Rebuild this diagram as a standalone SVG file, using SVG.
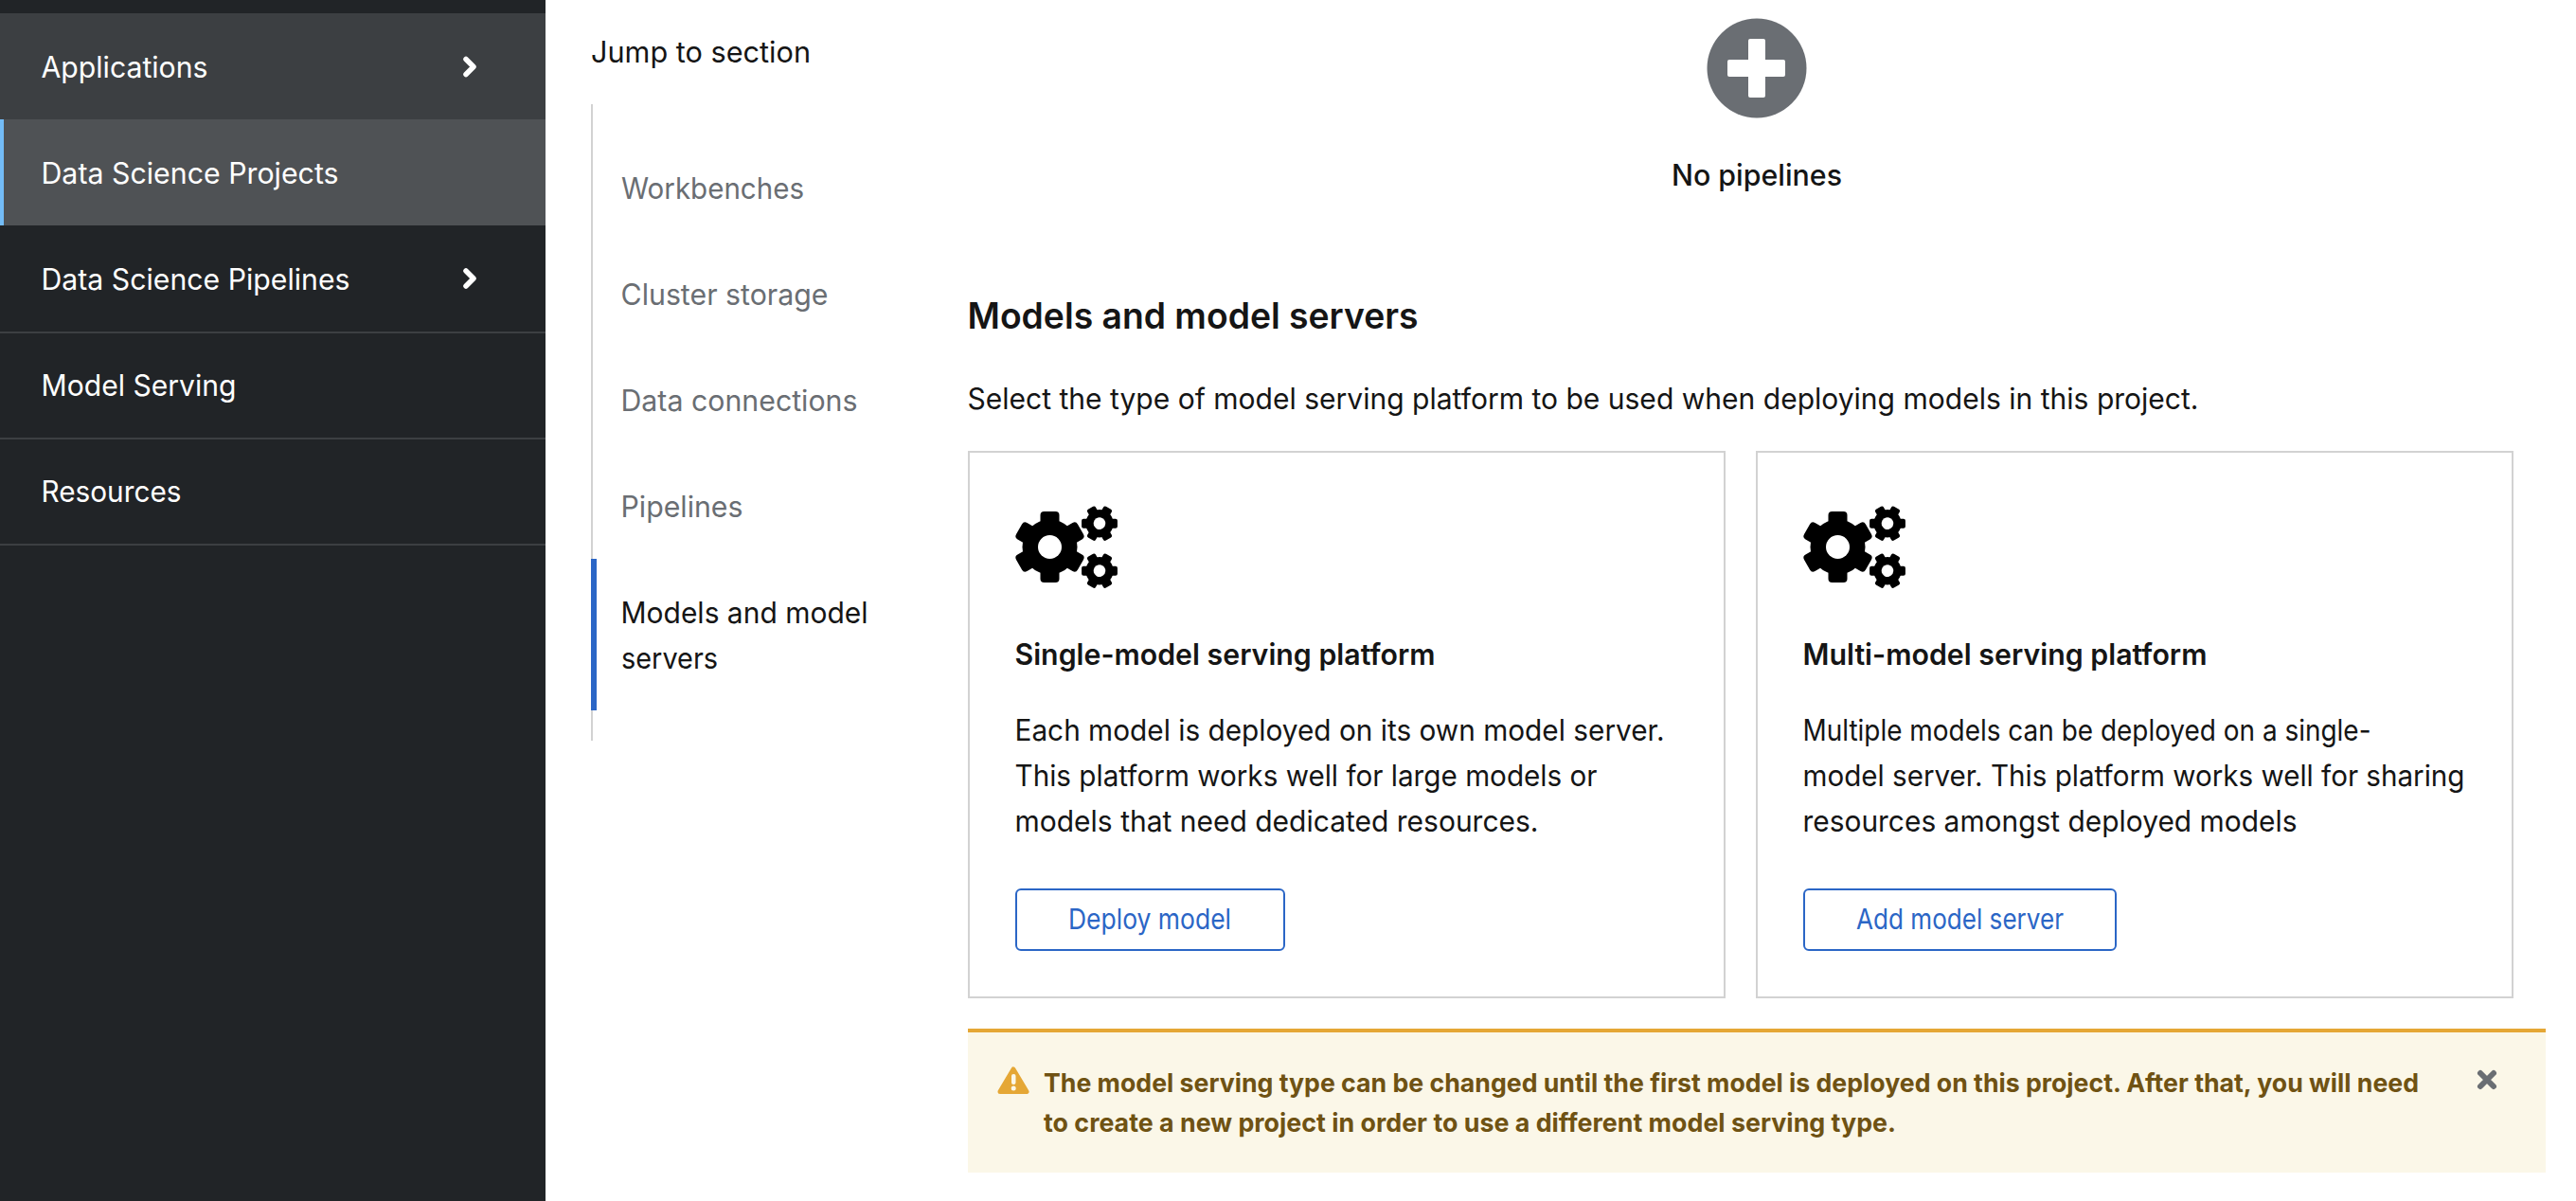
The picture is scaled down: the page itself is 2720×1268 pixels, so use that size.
<svg xmlns="http://www.w3.org/2000/svg" xmlns:xlink="http://www.w3.org/1999/xlink" width="2720" height="1268" viewBox="0 0 2720 1268">
<style>
text{font-family:"Inter","Noto Sans","Liberation Sans",sans-serif;font-size:29px;fill:#151515}
.nav{fill:#fff;font-size:31px}
.sub{fill:#6a6e73;font-size:31px}
.sec{font-size:31px}
.title{font-weight:600;font-size:31px}
.btn{fill:#2b66c6;font-size:30px}
.alert{fill:#6f5213;font-weight:700;font-size:27.500px}
.card{fill:#fff;stroke:#d2d2d2;stroke-width:2}
.btnr{fill:#fff;stroke:#2b66c6;stroke-width:2}
.chev{fill:none;stroke:#fff;stroke-width:5.5;stroke-linecap:round;stroke-linejoin:round}
.div{fill:#3c3f42}
</style>
<defs>
<g id="gear">
<circle r="29" fill="#000"/>
<g fill="#000">
<rect x="-10" y="-37.5" width="20" height="20" rx="4"/>
<rect x="-10" y="-37.5" width="20" height="20" rx="4" transform="rotate(60)"/>
<rect x="-10" y="-37.5" width="20" height="20" rx="4" transform="rotate(120)"/>
<rect x="-10" y="-37.5" width="20" height="20" rx="4" transform="rotate(180)"/>
<rect x="-10" y="-37.5" width="20" height="20" rx="4" transform="rotate(240)"/>
<rect x="-10" y="-37.5" width="20" height="20" rx="4" transform="rotate(300)"/>
</g>
<circle r="12.5" fill="#fff"/>
</g>
<g id="gears">
<use xlink:href="#gear" href="#gear" transform="translate(36.5,37.5)"/>
<use xlink:href="#gear" href="#gear" transform="translate(89,12.7) rotate(30) scale(.505)"/>
<use xlink:href="#gear" href="#gear" transform="translate(89,62.7) rotate(30) scale(.505)"/>
</g>
</defs>
<rect width="2720" height="1268" fill="#fff"/>
<g id="sidebar">
<rect width="576" height="1268" fill="#212427"/>
<rect y="14" width="576" height="112" fill="#3c3f42"/>
<rect y="126" width="576" height="112" fill="#4f5255"/>
<rect y="126" width="4" height="112" fill="#73bcf7"/>
<rect class="div" y="350" width="576" height="2"/>
<rect class="div" y="462" width="576" height="2"/>
<rect class="div" y="574" width="576" height="2"/>
<text class="nav" x="43.500" y="82" textLength="176" lengthAdjust="spacingAndGlyphs">Applications</text>
<path class="chev" d="M492,62.500L500,70.500L492,78.500"/>
<text class="nav" x="43.500" y="194" textLength="314" lengthAdjust="spacingAndGlyphs">Data Science Projects</text>
<text class="nav" x="43.500" y="306" textLength="326" lengthAdjust="spacingAndGlyphs">Data Science Pipelines</text>
<path class="chev" d="M492,286L500,294L492,302"/>
<text class="nav" x="43.500" y="418" textLength="206" lengthAdjust="spacingAndGlyphs">Model Serving</text>
<text class="nav" x="43.500" y="530" textLength="148" lengthAdjust="spacingAndGlyphs">Resources</text>
</g>
<g id="jump-nav">
<text class="sec" x="624" y="66" textLength="232" lengthAdjust="spacingAndGlyphs">Jump to section</text>
<rect x="624" y="110" width="2" height="672" fill="#d2d2d2"/>
<rect x="624" y="590" width="6" height="160" fill="#2b66c6"/>
<text class="sub" x="656" y="210" textLength="193" lengthAdjust="spacingAndGlyphs">Workbenches</text>
<text class="sub" x="655.500" y="322" textLength="219" lengthAdjust="spacingAndGlyphs">Cluster storage</text>
<text class="sub" x="655.500" y="434" textLength="250" lengthAdjust="spacingAndGlyphs">Data connections</text>
<text class="sub" x="655.500" y="546" textLength="129" lengthAdjust="spacingAndGlyphs">Pipelines</text>
<text class="sec" x="655.500" y="658" textLength="261" lengthAdjust="spacingAndGlyphs">Models and model</text>
<text class="sec" x="656" y="705.500" textLength="102" lengthAdjust="spacingAndGlyphs">servers</text>
</g>
<g id="empty-state">
<circle cx="1855" cy="72" r="52.500" fill="#6a6e73"/>
<rect x="1824" y="63" width="61" height="18" rx="2" fill="#fff"/>
<rect x="1846" y="41" width="18" height="62" rx="2" fill="#fff"/>
<text x="1765" y="195.500" style="font-weight:500;font-size:31px" textLength="180" lengthAdjust="spacingAndGlyphs">No pipelines</text>
</g>
<g id="section-header">
<text x="1021.500" y="347" style="font-weight:600;font-size:38px" textLength="476" lengthAdjust="spacingAndGlyphs">Models and model servers</text>
<text x="1021.500" y="432" class="sec" textLength="1300" lengthAdjust="spacingAndGlyphs">Select the type of model serving platform to be used when deploying models in this project.</text>
</g>
<g id="card-single">
<rect class="card" x="1023" y="477" width="798" height="576"/>
<use xlink:href="#gears" href="#gears" x="1072" y="540"/>
<text class="title" x="1071.500" y="701.500" textLength="444" lengthAdjust="spacingAndGlyphs">Single-model serving platform</text>
<text class="sec" x="1071.500" y="782" textLength="686" lengthAdjust="spacingAndGlyphs">Each model is deployed on its own model server.</text>
<text class="sec" x="1071.500" y="829.500" textLength="615" lengthAdjust="spacingAndGlyphs">This platform works well for large models or</text>
<text class="sec" x="1071.500" y="877.500" textLength="553" lengthAdjust="spacingAndGlyphs">models that need dedicated resources.</text>
<rect class="btnr" x="1073" y="939" width="283" height="64" rx="5"/>
<text class="btn" x="1128" y="981" textLength="172" lengthAdjust="spacingAndGlyphs">Deploy model</text>
</g>
<g id="card-multi">
<rect class="card" x="1855" y="477" width="798" height="576"/>
<use xlink:href="#gears" href="#gears" x="1904" y="540"/>
<text class="title" x="1903.500" y="701.500" textLength="427" lengthAdjust="spacingAndGlyphs">Multi-model serving platform</text>
<text class="sec" x="1903.500" y="782" textLength="600" lengthAdjust="spacingAndGlyphs">Multiple models can be deployed on a single-</text>
<text class="sec" x="1903.500" y="829.500" textLength="699" lengthAdjust="spacingAndGlyphs">model server. This platform works well for sharing</text>
<text class="sec" x="1903.500" y="877.500" textLength="522" lengthAdjust="spacingAndGlyphs">resources amongst deployed models</text>
<rect class="btnr" x="1905" y="939" width="329" height="64" rx="5"/>
<text class="btn" x="1960" y="981" textLength="219" lengthAdjust="spacingAndGlyphs">Add model server</text>
</g>
<g id="alert">
<rect x="1022" y="1086" width="1666" height="152" fill="#fbf7e8"/>
<rect x="1022" y="1086" width="1666" height="4" fill="#e5a735"/>
<path d="M1070,1129L1084,1152.500H1056Z" fill="#e5a735" stroke="#e5a735" stroke-width="5" stroke-linejoin="round"/>
<rect x="1068" y="1134" width="4.500" height="11" rx="2" fill="#fbf7e8"/>
<circle cx="1070.200" cy="1149" r="2.500" fill="#fbf7e8"/>
<text class="alert" x="1102" y="1153" textLength="1452" lengthAdjust="spacingAndGlyphs">The model serving type can be changed until the first model is deployed on this project. After that, you will need</text>
<text class="alert" x="1102" y="1195" textLength="900" lengthAdjust="spacingAndGlyphs">to create a new project in order to use a different model serving type.</text>
<path d="M2619,1133L2633,1147M2633,1133L2619,1147" stroke="#6a6e73" stroke-width="6" stroke-linecap="round" fill="none"/>
</g>
</svg>
